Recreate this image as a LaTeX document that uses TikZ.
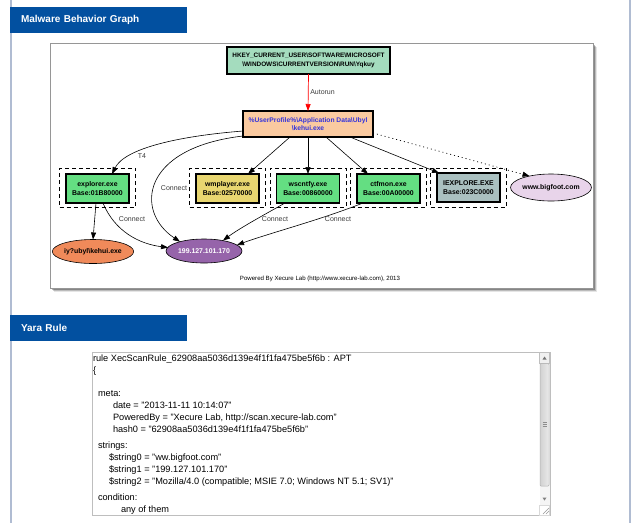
\documentclass[tikz,border=0pt]{standalone}
\usepackage{fontspec}
\setmainfont{Liberation Sans}
\usetikzlibrary{arrows.meta,shapes.geometric,calc}

\definecolor{hdrblue}{RGB}{2,80,160}
\definecolor{pageline}{RGB}{176,188,210}
\definecolor{framegray}{RGB}{150,150,150}
\definecolor{regfill}{RGB}{164,220,190}
\definecolor{exefill}{RGB}{250,202,160}
\definecolor{exetext}{RGB}{52,52,220}
\definecolor{procgreen}{RGB}{100,222,130}
\definecolor{procyellow}{RGB}{232,214,112}
\definecolor{procgray}{RGB}{170,192,192}
\definecolor{hostpink}{RGB}{232,212,234}
\definecolor{hostorange}{RGB}{240,138,90}
\definecolor{hostpurple}{RGB}{150,100,170}
\definecolor{labelgray}{RGB}{60,60,60}
\definecolor{boxgray}{RGB}{190,190,190}

\begin{document}
\begin{tikzpicture}[x=1pt,y=-1pt,
  every node/.style={inner sep=0pt, outer sep=0pt},
  hdr/.style={fill=hdrblue, text=white, anchor=north west,
    minimum width=177pt, minimum height=26pt, inner xsep=11pt,
    text width=155pt, align=left, font=\bfseries\fontsize{10}{12}\selectfont},
  proc/.style={draw=black, line width=1.1pt, minimum width=63pt,
    minimum height=29pt, align=center, fill=procgreen,
    font=\bfseries\fontsize{6.9}{8.6}\selectfont},
  cluster/.style={draw=black, dash pattern=on 4pt off 3pt, line width=0.7pt,
    minimum width=76pt, minimum height=39pt},
  host/.style={ellipse, draw=black, line width=0.6pt,
    font=\bfseries\fontsize{6.9}{8}\selectfont},
  edge/.style={draw=black, line width=0.6pt, -{Triangle[length=7pt,width=5pt]}},
  elabel/.style={font=\fontsize{7}{8}\selectfont, text=labelgray},
  code/.style={anchor=base west, font=\fontsize{9.2}{11}\selectfont}
]
\useasboundingbox (0,0) rectangle (640,523);
\fill[white] (0,0) rectangle (640,523);

% page side rules
\draw[pageline, line width=1.6pt] (11,0) -- (11,523);
\draw[pageline, line width=1.6pt] (630,0) -- (630,523);

% ---------------- behaviour graph panel ----------------
\node[hdr] (hgraph) at (10,7) {Malware Behavior Graph};

\foreach \o/\a in {4/0.10,3/0.18,2/0.28,1/0.4}
  \fill[black, opacity=\a] (50+\o,43+\o) rectangle (593+\o,288+\o);
\draw[framegray, fill=white, line width=0.6pt] (50,43) rectangle (593,288);

\node[draw=black, line width=1.1pt, fill=regfill, minimum width=163pt,
      minimum height=27pt, align=center,
      font=\bfseries\fontsize{6.4}{8.4}\selectfont] (reg) at (308.5,60.5)
  {HKEY\_CURRENT\_USER\textbackslash SOFTWARE\textbackslash MICROSOFT\\
   \textbackslash WINDOWS\textbackslash CURRENTVERSION\textbackslash RUN\textbackslash Yqkuy};

\node[draw=black, line width=1.1pt, fill=exefill, minimum width=130pt,
      minimum height=26pt, align=center, text=exetext,
      font=\bfseries\fontsize{6.7}{8.6}\selectfont] (exe) at (308,124)
  {\%UserProfile\%\textbackslash Application Data\textbackslash Ubyl\\
   \textbackslash kehui.exe};

% process clusters
\node[cluster] (c1) at (97.5,187.5) {};
\node[cluster] (c2) at (227.5,187.5) {};
\node[cluster] (c3) at (308,187.5) {};
\node[cluster] (c4) at (388.5,187.5) {};
\node[cluster] (c5) at (468.5,187.5) {};

\node[proc] (expl) at (97.5,188.5) {explorer.exe\\Base:01B80000};
\node[proc, fill=procyellow] (wmp) at (227.5,188.5) {wmplayer.exe\\Base:02570000};
\node[proc] (wsc) at (308,188.5) {wscntfy.exe\\Base:00860000};
\node[proc] (ctf) at (388.5,188.5) {ctfmon.exe\\Base:00A00000};
\node[proc, fill=procgray] (iex) at (468.5,187.5) {IEXPLORE.EXE\\Base:023C0000};

% hosts and dropped file
\node[host, fill=hostpink, minimum width=74pt, minimum height=27pt] (big)
  at (551,187.5) {www.bigfoot.com};
\node[host, fill=hostorange, minimum width=79pt, minimum height=24pt] (drop)
  at (93,251.5) {iy?ubyl\textbackslash kehui.exe};
\node[host, fill=hostpurple, text=white, minimum width=76pt, minimum height=24pt] (ip)
  at (204,251) {199.127.101.170};

% edges
\draw[red, line width=0.7pt, -{Triangle[length=7pt,width=5pt]}] (reg.south) -- (exe.north)
  node[pos=0.5, anchor=west, xshift=2pt, elabel] {Autorun};

\draw[edge] ([yshift=-7pt]exe.west) .. controls (180,136) and (125,148) ..
  ([xshift=14.5pt]expl.north);
\node[elabel] (lt4) at (142,156) {T4};

\draw[edge] ([yshift=-12pt]exe.west) .. controls (140,148) and (135,212) ..
  ($(ip)+(-24,-9.3)$);
\node[elabel] (lc1) at (174,188) {Connect};

\draw[edge] ([xshift=-18pt]exe.south) -- ([xshift=20.5pt]wmp.north);
\draw[edge] (exe.south) -- (wsc.north);
\draw[edge] ([xshift=18pt]exe.south) -- ([xshift=-20.5pt]ctf.north);
\draw[edge] ([xshift=42pt]exe.south) -- ([xshift=-29.5pt]iex.north);
\draw[line width=0.7pt, dash pattern=on 1pt off 3pt,
      -{Triangle[length=7pt,width=5pt]}] ([yshift=-9pt]exe.east) -- (big.152);

\draw[edge] ([xshift=-1.5pt]expl.south) -- (drop.north);
\draw[edge] ([xshift=5.5pt]expl.south) .. controls (115,232) and (140,244) ..
  ($(ip)+(-36,-3.5)$);
\node[elabel] (lc2) at (132,219) {Connect};

\draw[edge] ([xshift=-23pt]wsc.south) .. controls (262,216) and (240,228) ..
  ($(ip)+(19,-10.5)$);
\node[elabel] (lc3) at (275,219) {Connect};

\draw[edge] ([xshift=-25.5pt]ctf.south) .. controls (320,220) and (270,233) ..
  ($(ip)+(33,-6)$);
\node[elabel] (lc4) at (338,219) {Connect};

\node[font=\fontsize{6.1}{7}\selectfont] (credit) at (320,279)
  {Powered By Xecure Lab (http://www.xecure-lab.com), 2013};

% ---------------- yara rule panel ----------------
\node[hdr] (hyara) at (10,315) {Yara Rule};

\draw[boxgray, fill=white, line width=0.6pt] (92,352) rectangle (550,515);

% scroll bar
\fill[black!4] (539.5,352.5) rectangle (549.5,505);
\draw[black!25, fill=black!6, line width=0.4pt] (539.5,352.5) rectangle (549.5,363);
\fill[black!55] (542.5,359.5) -- (546.5,359.5) -- (544.5,356.5) -- cycle;
\draw[black!30, left color=black!18, right color=black!8, line width=0.5pt,
      rounded corners=1pt] (540,363.5) rectangle (549,486);
\foreach \dy in {-2,0,2}
  \draw[black!45, line width=0.4pt] (542.5,424+\dy) -- (546.5,424+\dy);
\fill[black!50] (542.5,497.5) -- (546.5,497.5) -- (544.5,500.5) -- cycle;
\draw[black!15, line width=0.4pt] (539.5,505) rectangle (549.5,515);
\foreach \k in {3,6}
  \draw[black!40, line width=0.4pt] (549-\k,514) -- (549,514-\k);

\node[code] (l1) at (93,361.5) {rule XecScanRule\_62908aa5036d139e4f1f1fa475be5f6b : APT};
\node[code] (l2) at (93,373.5) {\{};
\node[code] (l3) at (98,396.5) {meta:};
\node[code] (l4) at (113,408.5) {date = "2013-11-11 10:14:07"};
\node[code] (l5) at (113,420.5) {PoweredBy = "Xecure Lab, http://scan.xecure-lab.com"};
\node[code] (l6) at (113,432.5) {hash0 = "62908aa5036d139e4f1f1fa475be5f6b"};
\node[code] (l7) at (98,448.5) {strings:};
\node[code] (l8) at (109,460.5) {\$string0 = "ww.bigfoot.com"};
\node[code] (l9) at (109,472.5) {\$string1 = "199.127.101.170"};
\node[code] (l10) at (109,484.5) {\$string2 = "Mozilla/4.0 (compatible; MSIE 7.0; Windows NT 5.1; SV1)"};
\node[code] (l11) at (98,500.5) {condition:};
\node[code] (l12) at (121,512.5) {any of them};
\end{tikzpicture}
\end{document}
